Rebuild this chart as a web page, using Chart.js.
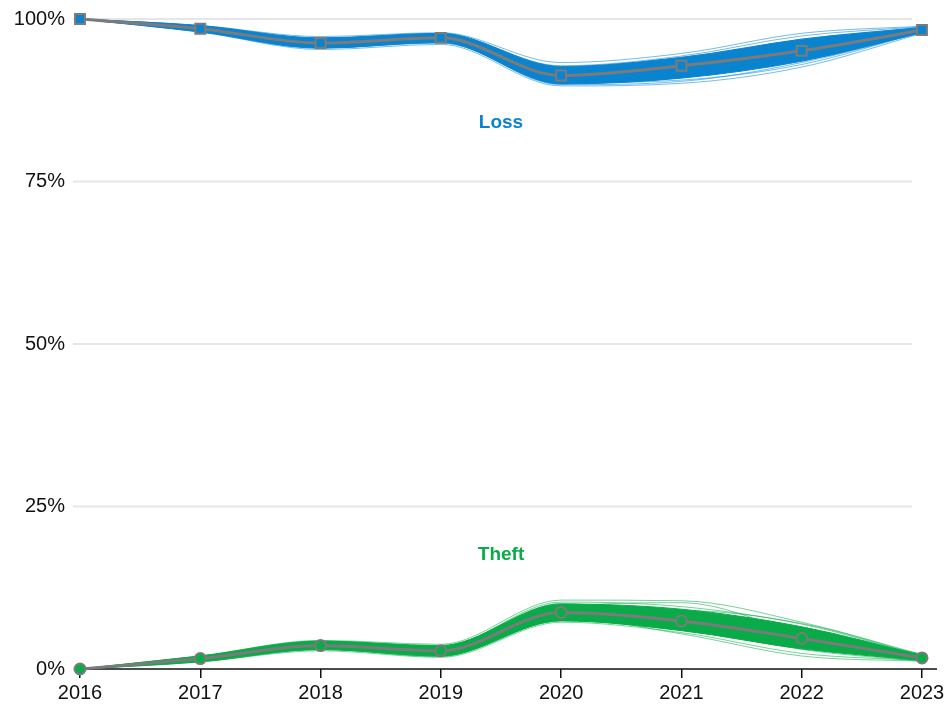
<!DOCTYPE html>
<html>
<head>
<meta charset="utf-8">
<title>Loss vs Theft</title>
<script src="https://cdn.jsdelivr.net/npm/chart.js@4.4.1/dist/chart.umd.min.js"></script>
<style>
  html, body { margin: 0; padding: 0; background: #fff; }
  #chart { display: block; }
</style>
</head>
<body>
<canvas id="chart" width="950" height="709"></canvas>
<script>
const years = ["2016", "2017", "2018", "2019", "2020", "2021", "2022", "2023"];
const yTicks = [0, 25, 50, 75, 100];

// averages across runs
const lossMean = [100, 98.5, 96.3, 97.1, 91.3, 92.8, 95.1, 98.3];
const theftMean = [0, 1.6, 3.6, 2.8, 8.7, 7.4, 4.7, 1.7];

// dense middle of each bundle
const lossCoreHigh = [100, 99.0, 97.1, 97.8, 92.7, 94.1, 96.9, 98.7];
const lossCoreLow = [100, 98.0, 95.5, 96.4, 90.0, 90.9, 93.5, 97.9];
const theftCoreHigh = [0, 2.0, 4.3, 3.6, 10.0, 9.2, 6.5, 2.1];
const theftCoreLow = [0, 1.1, 3.0, 2.0, 7.4, 5.9, 3.1, 1.3];

// individual runs
const lossRuns = [
  [100, 99.0, 97.3, 97.9, 93.3, 94.7, 97.8, 98.9],
  [100, 98.9, 97.0, 97.7, 92.8, 94.3, 97.4, 98.8],
  [100, 98.7, 96.6, 97.4, 92.1, 93.5, 96.3, 98.6],
  [100, 98.4, 96.0, 96.9, 91.6, 92.9, 95.6, 98.5],
  [100, 98.2, 95.9, 96.5, 90.8, 91.5, 94.0, 98.3],
  [100, 98.1, 95.6, 96.3, 90.2, 90.6, 93.0, 98.0],
  [100, 98.0, 95.3, 96.1, 89.7, 90.1, 92.6, 97.8],
  [100, 98.6, 96.5, 97.2, 91.0, 92.2, 94.8, 98.4],
  [100, 98.3, 96.2, 97.0, 90.5, 91.2, 94.4, 98.2],
  [100, 98.8, 96.9, 96.7, 91.8, 93.8, 96.9, 98.7],
  [100, 98.5, 96.7, 97.5, 92.4, 94.1, 96.6, 98.6],
  [100, 98.2, 95.7, 96.4, 89.9, 90.4, 93.3, 97.9],
  [100, 98.9, 96.4, 97.3, 91.4, 93.1, 95.9, 98.5],
  [100, 98.4, 96.1, 96.8, 90.6, 91.8, 94.2, 98.1]
];
const theftRuns = [
  [0, 2.0, 4.4, 3.8, 10.6, 10.5, 7.2, 2.2],
  [0, 1.8, 4.2, 3.5, 10.3, 9.6, 6.9, 2.0],
  [0, 1.7, 3.9, 3.0, 9.5, 10.2, 5.6, 1.9],
  [0, 1.5, 3.5, 2.6, 9.0, 8.5, 6.2, 1.8],
  [0, 1.4, 3.3, 2.4, 8.2, 7.0, 4.2, 1.6],
  [0, 1.2, 3.0, 2.0, 7.5, 6.2, 3.5, 1.4],
  [0, 1.1, 2.8, 1.8, 7.2, 5.6, 2.4, 1.3],
  [0, 1.9, 3.7, 3.2, 9.8, 8.8, 5.0, 1.7],
  [0, 1.6, 4.0, 2.9, 8.4, 6.6, 3.0, 1.2],
  [0, 1.3, 3.4, 3.6, 9.2, 7.8, 5.8, 2.3],
  [0, 1.7, 3.2, 2.3, 7.9, 5.4, 2.0, 1.2],
  [0, 2.0, 3.6, 2.7, 10.1, 7.2, 4.4, 1.5],
  [0, 1.4, 4.3, 3.3, 8.0, 9.0, 7.0, 2.1],
  [0, 1.5, 3.0, 1.9, 8.8, 6.8, 3.8, 1.4]
];

const BLUE = "#0a84cf";
const GREEN = "#0aab48";
const MEAN_GRAY = "#7b7b7b";
const FONT = "'Liberation Sans', Arial, Helvetica, sans-serif";

const runLine = (data, color) => ({
  data,
  borderColor: color,
  borderWidth: 1,
  pointRadius: 0,
  cubicInterpolationMode: "monotone",
  fill: false,
  clip: false,
  order: 2,
});

const band = (high, low, color) => [
  {
    data: high,
    borderColor: color,
    borderWidth: 1,
    backgroundColor: color,
    pointRadius: 0,
    cubicInterpolationMode: "monotone",
    fill: "+1",
    clip: false,
    order: 3,
  },
  {
    data: low,
    borderColor: color,
    borderWidth: 1,
    pointRadius: 0,
    cubicInterpolationMode: "monotone",
    fill: false,
    clip: false,
    order: 3,
  },
];

const meanLine = (data, fillColor, style, radius) => ({
  data,
  borderColor: MEAN_GRAY,
  borderWidth: 3,
  pointStyle: style,
  pointRadius: radius,
  pointBackgroundColor: fillColor,
  pointBorderColor: MEAN_GRAY,
  pointBorderWidth: 2,
  cubicInterpolationMode: "monotone",
  fill: false,
  clip: false,
  order: 0,
});

// light horizontal rules, black baseline
const backdrop = {
  id: "backdrop",
  beforeDatasetsDraw(chart) {
    const { ctx, chartArea, scales } = chart;
    ctx.save();
    ctx.strokeStyle = "#e6e6e6";
    ctx.lineWidth = 2;
    yTicks.filter(v => v > 0).forEach(v => {
      const y = scales.y.getPixelForValue(v);
      ctx.beginPath();
      ctx.moveTo(chartArea.left - 7, y);
      ctx.lineTo(chartArea.right - 10, y);
      ctx.stroke();
    });
    const y0 = scales.y.getPixelForValue(0);
    ctx.strokeStyle = "#111";
    ctx.lineWidth = 1.5;
    ctx.beginPath();
    ctx.moveTo(chartArea.left - 5, y0);
    ctx.lineTo(chartArea.right + 15, y0);
    ctx.stroke();
    ctx.restore();
  },
};

// series names written inside the plot
const seriesNames = {
  id: "seriesNames",
  afterDatasetsDraw(chart, args, opts) {
    const { ctx, scales } = chart;
    ctx.save();
    ctx.font = "bold 19px " + FONT;
    ctx.textAlign = "center";
    ctx.textBaseline = "middle";
    opts.items.forEach(it => {
      const x = (scales.x.getPixelForValue(it.between[0]) + scales.x.getPixelForValue(it.between[1])) / 2;
      ctx.fillStyle = it.color;
      ctx.fillText(it.text, x, scales.y.getPixelForValue(it.y));
    });
    ctx.restore();
  },
};

const datasets = [
  meanLine(lossMean, BLUE, "rect", 7),
  meanLine(theftMean, GREEN, "circle", 5.5),
  ...lossRuns.map(r => runLine(r, "rgba(10,132,207,0.55)")),
  ...theftRuns.map(r => runLine(r, "rgba(10,171,72,0.55)")),
  ...band(lossCoreHigh, lossCoreLow, BLUE),
  ...band(theftCoreHigh, theftCoreLow, GREEN),
];

new Chart(document.getElementById("chart"), {
  type: "line",
  data: { labels: years, datasets },
  options: {
    responsive: false,
    animation: false,
    layout: { autoPadding: false, padding: { left: 14, right: 28, top: 19, bottom: 1 } },
    plugins: {
      legend: { display: false },
      tooltip: { enabled: false },
      seriesNames: {
        items: [
          { text: "Loss", color: BLUE, between: [3, 4], y: 84 },
          { text: "Theft", color: GREEN, between: [3, 4], y: 17.6 },
        ],
      },
    },
    scales: {
      x: {
        offset: false,
        grid: {
          display: true,
          drawOnChartArea: false,
          drawTicks: true,
          tickLength: 9,
          color: "#111",
          lineWidth: 1.5,
        },
        border: { display: false },
        ticks: {
          color: "#111",
          font: { family: FONT, size: 20 },
          padding: 3,
          maxRotation: 0,
        },
      },
      y: {
        min: 0,
        max: 100,
        afterBuildTicks: axis => { axis.ticks = yTicks.map(v => ({ value: v })); },
        afterFit: axis => {
          axis.width = 66;
          axis.paddingTop = 0;
          axis.paddingBottom = 0;
        },
        grid: { display: false, drawTicks: false },
        border: { display: false },
        ticks: {
          color: "#111",
          font: { family: FONT, size: 20 },
          padding: 15,
          callback: v => v + "%",
        },
      },
    },
  },
  plugins: [backdrop, seriesNames],
});
</script>
</body>
</html>
